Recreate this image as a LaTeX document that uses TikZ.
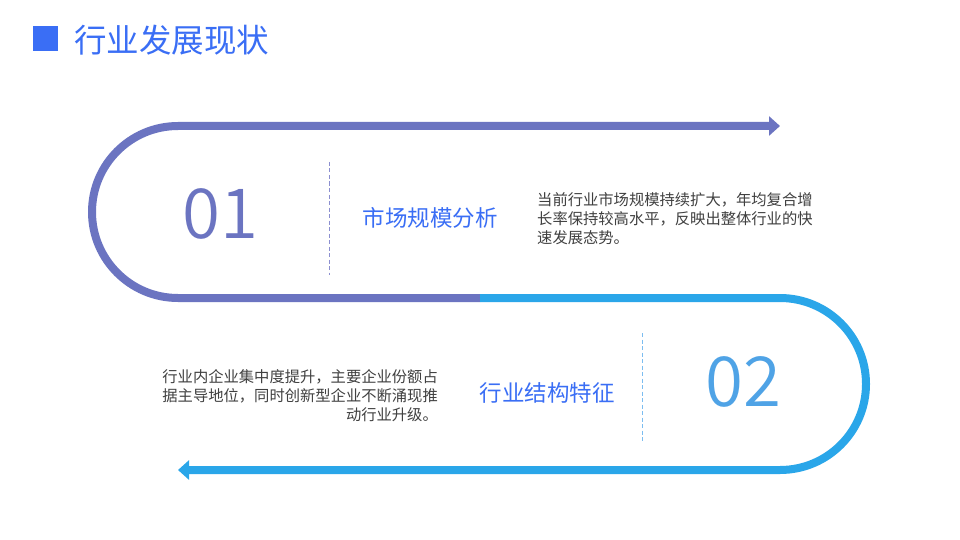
\documentclass[tikz,border=0pt]{standalone}
\usepackage{fontspec}
\setmainfont{Noto Sans CJK SC}
\newfontfamily\numfont{Noto Sans CJK SC DemiLight}
\usetikzlibrary{positioning, arrows.meta}
\definecolor{trackpurple}{HTML}{6B74C1}
\definecolor{trackblue}{HTML}{2AA6E9}
\definecolor{titleblue}{HTML}{3A6EF5}
\definecolor{numblue}{HTML}{4FA3E6}
\definecolor{dashpurple}{HTML}{8C8FD0}
\definecolor{dashblue}{HTML}{7CBDF0}
\definecolor{bodygray}{HTML}{404040}

\begin{document}
\begin{tikzpicture}[x=1pt, y=-1pt, node distance=1cm, on grid, inner sep=0pt]
      \tikzstyle{track}=[line width=8pt, -{Triangle[length=11pt, width=19pt]}]
      \tikzstyle{number}=[font=\numfont\fontsize{69}{69}\selectfont]
      \tikzstyle{heading}=[font=\fontsize{22.5}{24}\selectfont, text=titleblue]
      \tikzstyle{body}=[font=\fontsize{15.3}{19}\selectfont, text=bodygray]
      \tikzstyle{divider}=[line width=0.9pt, dash pattern=on 4pt off 2.5pt]

      \useasboundingbox[fill=white] (0,0) rectangle (960,540);

      % Title
      \node[fill=titleblue, minimum size=25pt]                  (mark)  at (45.5,38.5) {};
      \node[anchor=west, font=\fontsize{32.5}{34}\selectfont,
            text=titleblue]                                      (title) at (74,40) {行业发展现状};

      % Track points
      \coordinate (top end)  at (780,126);
      \coordinate (top turn) at (178,298);
      \coordinate (mid)      at (480,298);
      \coordinate (mid turn) at (780,298);
      \coordinate (bot end)  at (178,470);

      % Track
      \draw[track, trackpurple] (mid) -- (top turn)
            arc[start angle=90, end angle=270, radius=86] -- (top end);
      \draw[track, trackblue] (mid) -- (mid turn)
            arc[start angle=270, end angle=450, radius=86] -- (bot end);

      % Step 01
      \node[number, text=trackpurple]    (num1)   at (220,214) {01};
      \coordinate                        (div1a)  at (329,162);
      \coordinate                        (div1b)  at (329,275);
      \node[heading]                     (head1)  at (430,218) {市场规模分析};
      \node[body, anchor=west, align=left] (text1) at (537,219)
            {当前行业市场规模持续扩大，年均复合增\\长率保持较高水平，反映出整体行业的快\\速发展态势。};
      \draw[divider, dashpurple] (div1a) -- (div1b);

      % Step 02
      \node[number, text=numblue]        (num2)   at (743,382) {02};
      \coordinate                        (div2a)  at (642,333);
      \coordinate                        (div2b)  at (642,443);
      \node[heading]                     (head2)  at (547,393) {行业结构特征};
      \node[body, anchor=east, align=right] (text2) at (438,396)
            {行业内企业集中度提升，主要企业份额占\\据主导地位，同时创新型企业不断涌现推\\动行业升级。};
      \draw[divider, dashblue] (div2a) -- (div2b);
\end{tikzpicture}
\end{document}
